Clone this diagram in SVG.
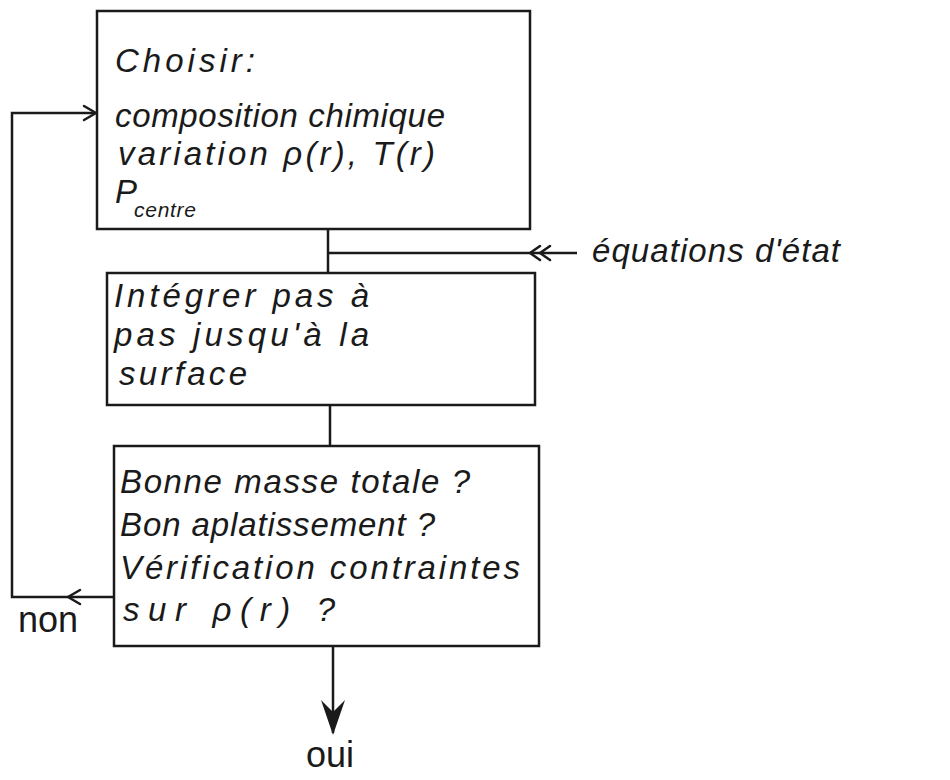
<svg xmlns="http://www.w3.org/2000/svg" width="950" height="780" viewBox="0 0 950 780">
<defs>
<style>
.box{fill:none;stroke:#1a1a1a;stroke-width:2.5}
.ln{fill:none;stroke:#1a1a1a;stroke-width:2.5}
.hd{fill:none;stroke:#1a1a1a;stroke-width:2.5;stroke-linecap:round;stroke-linejoin:round}
.t{font-family:"Liberation Sans","DejaVu Sans",sans-serif;font-style:italic;font-size:33px;fill:#1a1a1a}
.s{font-family:"Liberation Sans","DejaVu Sans",sans-serif;font-style:italic;font-size:21px;fill:#1a1a1a}
.u{font-family:"Liberation Sans","DejaVu Sans",sans-serif;font-size:36px;fill:#1a1a1a}
</style>
</defs>
<rect width="950" height="780" fill="#ffffff"/>
<g id="choisir">
<rect class="box" x="97" y="11" width="433" height="218"/>
<text class="t" x="115" y="72" textLength="140" lengthAdjust="spacing">Choisir:</text>
<text class="t" x="115" y="127" textLength="330" lengthAdjust="spacing">composition chimique</text>
<text class="t" x="118" y="165" textLength="317" lengthAdjust="spacing">variation ρ(r), T(r)</text>
<text class="t" x="115" y="203">P</text>
<text class="s" x="134" y="217" textLength="62" lengthAdjust="spacing">centre</text>
</g>
<g id="integrer">
<rect class="box" x="107" y="273" width="428" height="132"/>
<text class="t" x="114" y="307" textLength="255" lengthAdjust="spacing">Intégrer pas à</text>
<text class="t" x="114" y="346" textLength="255" lengthAdjust="spacing">pas jusqu'à la</text>
<text class="t" x="119" y="385" textLength="128" lengthAdjust="spacing">surface</text>
</g>
<g id="verif">
<rect class="box" x="114" y="446" width="425" height="200"/>
<text class="t" x="120" y="493" textLength="350" lengthAdjust="spacing">Bonne masse totale ?</text>
<text class="t" x="120" y="536" textLength="315" lengthAdjust="spacing">Bon aplatissement ?</text>
<text class="t" x="120" y="579" textLength="400" lengthAdjust="spacing">Vérification contraintes</text>
<text class="t" x="123" y="621" textLength="212" lengthAdjust="spacing">sur  ρ(r) ?</text>
</g>
<g id="connectors">
<polyline class="ln" points="114,597 12,597 12,113 95,113"/>
<path class="hd" d="M84,106 L96,113 L84,120"/>
<path class="hd" d="M80,590 L68,597 L80,604"/>
<line class="ln" x1="328" y1="229" x2="328" y2="273"/>
<line class="ln" x1="328" y1="253" x2="577" y2="253"/>
<path class="hd" d="M540,246 L530,253 L540,260 M550,246 L540,253 L550,260"/>
<line class="ln" x1="330" y1="405" x2="330" y2="446"/>
<line class="ln" x1="333" y1="646" x2="333" y2="733"/>
<path d="M321,700 L333,735 L345,700 L333,712 Z" fill="#1a1a1a"/>
</g>
<text class="t" x="592" y="262" textLength="248" lengthAdjust="spacing">équations d'état</text>
<text class="u" x="18" y="632">non</text>
<text class="u" x="306" y="767">oui</text>
</svg>
